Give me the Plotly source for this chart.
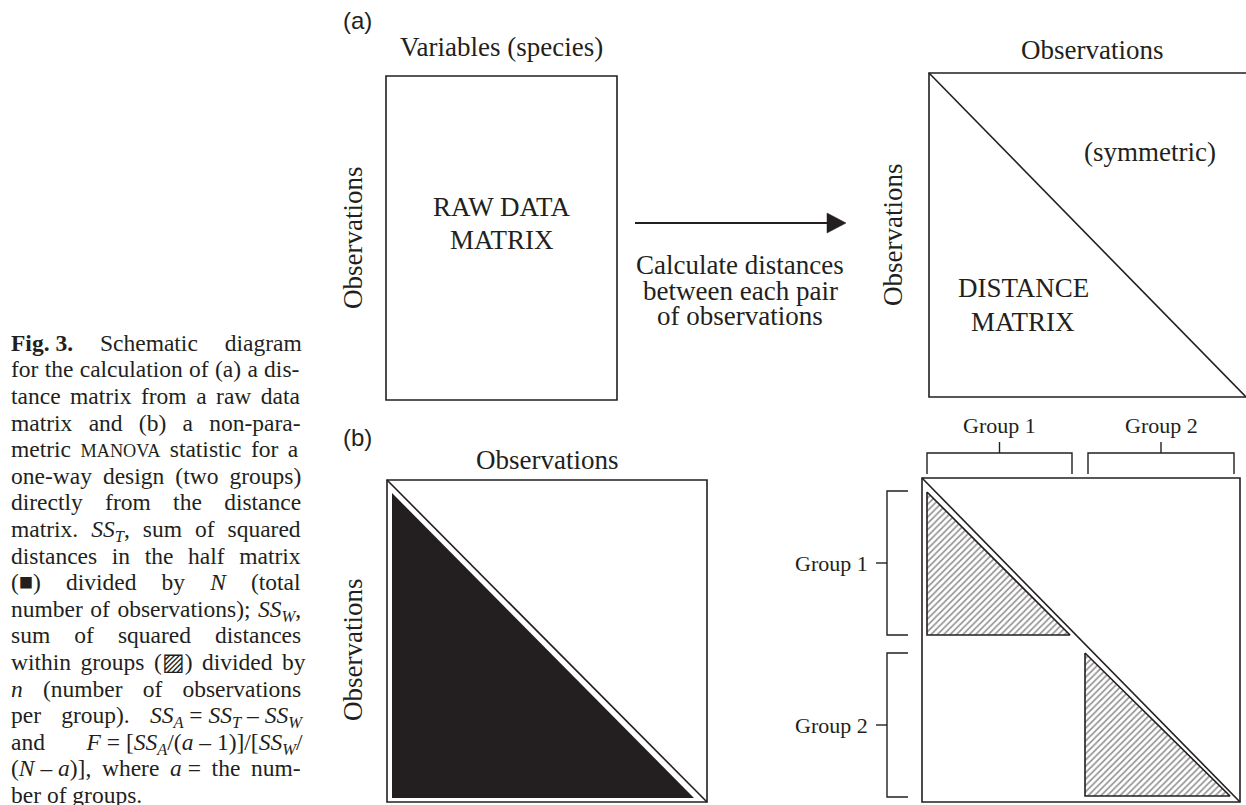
import re
import plotly.graph_objects as go

# ---------------- content ----------------
panel_tags = ["(a)", "(b)"]
raw_title = "Variables (species)"
obs_label = "Observations"
raw_label = ["RAW DATA", "MATRIX"]
dist_label = ["DISTANCE", "MATRIX"]
sym_label = "(symmetric)"
arrow_label = ["Calculate distances", "between each pair", "of observations"]
group_labels = ["Group 1", "Group 2"]

CAP_FS = 23.5
SC_FS = round(CAP_FS * 0.78, 1)
SST = "<i>SS</i><sub><i>T</i></sub>"
SSW = "<i>SS</i><sub><i>W</i></sub>"
SSA = "<i>SS</i><sub><i>A</i></sub>"
FS = "\u2005"  # fixed (non-stretching) space
caption_lines = [
    "<b>Fig." + FS + "3.</b> Schematic diagram",
    "for the calculation of (a) a dis-",
    "tance matrix from a raw data",
    "matrix and (b) a non-para-",
    "metric <span style='font-size:%spx'>MANOVA</span> statistic for a" % SC_FS,
    "one-way design (two groups)",
    "directly from the distance",
    "matrix. " + SST + ", sum of squared",
    "distances in the half matrix",
    "(\u25a0) divided by <i>N</i> (total",
    "number of observations); " + SSW + ",",
    "sum of squared distances",
    "within groups (\u25a8) divided by",
    "<i>n</i> (number of observations",
    "per group). " + SSA + FS + "=" + FS + SST + FS + "\u2013" + FS + SSW,
    "and <i>F</i>" + FS + "=" + FS + "[" + SSA + "/(<i>a</i>" + FS + "\u2013" + FS + "1)]/[" + SSW + "/",
    "(<i>N</i>" + FS + "\u2013" + FS + "<i>a</i>)], where <i>a</i>" + FS + "= the num-",
    "ber of groups.",
]

# ---------------- styling / geometry ----------------
W, H = 1246, 805
INK = "#231f20"
SERIF = "Liberation Serif, Times New Roman, serif"
SANS = "Liberation Sans, Arial, sans-serif"
LBL_FS = 27
GRP_FS = 22
LW = 1.6

# Times-compatible advance widths (1/1000 em)
ROMAN = {" ": 250, "\u2005": 250, "(": 333, ")": 333, ",": 250, "-": 333, ".": 250, "/": 278,
         ":": 278, ";": 278, "=": 564, "[": 333, "]": 333, "\u2013": 500, "\u25a0": 604, "\u25a8": 770}
ROMAN.update({d: 500 for d in "0123456789"})
ROMAN.update(dict(zip("ABCDEFGHIJKLMNOPQRSTUVWXYZ",
                      [722, 667, 667, 722, 611, 556, 722, 722, 333, 389, 722, 611, 889, 722, 722,
                       556, 722, 667, 556, 611, 722, 722, 944, 722, 722, 611])))
ROMAN.update(dict(zip("abcdefghijklmnopqrstuvwxyz",
                      [444, 500, 444, 500, 444, 333, 500, 500, 278, 278, 500, 278, 778, 500, 500,
                       500, 500, 333, 389, 278, 500, 500, 722, 500, 500, 444])))
ITALIC = dict(ROMAN)
ITALIC.update({"A": 611, "F": 611, "N": 667, "S": 500, "T": 556, "W": 833, "a": 500, "n": 500})
BOLD = dict(ROMAN)
BOLD.update({"F": 611, "i": 278, "g": 500})


def text_width(markup, fs):
    total, bold, italic, sub = 0.0, False, False, 0
    sizes = [fs]
    for tok in re.split(r"(<[^>]+>)", markup):
        if not tok:
            continue
        if tok.startswith("<"):
            t = tok.lower()
            if t == "<b>": bold = True
            elif t == "</b>": bold = False
            elif t == "<i>": italic = True
            elif t == "</i>": italic = False
            elif t == "<sub>": sub += 1
            elif t == "</sub>": sub -= 1
            elif t.startswith("<span"):
                m = re.search(r"font-size:\s*([\d.]+)px", t)
                sizes.append(float(m.group(1)) if m else sizes[-1])
            elif t == "</span>": sizes.pop()
            continue
        size = sizes[-1] * (0.7 ** sub)
        table = BOLD if bold else (ITALIC if italic else ROMAN)
        for ch in tok:
            total += table.get(ch, 500) / 1000.0 * size
    return total


def visible(markup):
    return re.sub(r"<[^>]+>", "", markup)


fig = go.Figure()
shapes = []
ann = []


def line(x0, y0, x1, y1, w=LW):
    shapes.append(dict(type="line", x0=x0, y0=y0, x1=x1, y1=y1, xref="x", yref="y",
                       line=dict(color=INK, width=w)))


def rect(x0, y0, x1, y1, w=LW):
    shapes.append(dict(type="rect", x0=x0, y0=y0, x1=x1, y1=y1, xref="x", yref="y",
                       line=dict(color=INK, width=w), fillcolor="rgba(0,0,0,0)"))


def path(d, w=LW, fill=None):
    shapes.append(dict(type="path", path=d, xref="x", yref="y",
                       line=dict(color=INK, width=w if w else 0),
                       fillcolor=fill if fill else "rgba(0,0,0,0)"))


def text(x, y, s, fs=LBL_FS, font=SERIF, xa="center", ya="middle", angle=0):
    ann.append(dict(x=x, y=y, xref="x", yref="y", text=s, showarrow=False, xanchor=xa,
                    yanchor=ya, textangle=angle, borderpad=0,
                    font=dict(family=font, size=fs, color=INK)))


# ---------------- caption (justified) ----------------
CAP_L, CAP_R = 10, 302
CAP_Y0, CAP_PITCH = 342, 26.6
for i, ln in enumerate(caption_lines):
    yc = CAP_Y0 + i * CAP_PITCH
    ytop = yc - 0.56 * CAP_FS
    nat = text_width(ln, CAP_FS)
    nsp = visible(ln).count(" ")
    if i < len(caption_lines) - 1 and nsp > 0:
        ws = (CAP_R - CAP_L - nat) / nsp - 0.6
        s = "<span style='word-spacing:%.2fpx'>%s</span>" % (ws, ln)
    else:
        s = ln
    text(CAP_L, ytop, s, fs=CAP_FS, xa="left", ya="top")

# ---------------- panel (a) ----------------
text(357, 20, panel_tags[0], fs=24, font=SANS)
# raw data matrix
RX0, RY0, RX1, RY1 = 386, 76, 617, 400
rect(RX0, RY0, RX1, RY1)
text((RX0 + RX1) / 2, 47, raw_title)
text(353, (RY0 + RY1) / 2, obs_label, angle=-90)
text((RX0 + RX1) / 2, 207, raw_label[0])
text((RX0 + RX1) / 2, 240, raw_label[1])
# arrow
AY = 223
line(635, AY, 830, AY, w=1.8)
path("M 827 213 L 846 %d L 827 233 Z" % AY, w=0.5, fill=INK)
for k, s in enumerate(arrow_label):
    text(740, 265 + k * 25.5, s)
# distance matrix
DX0, DY0, DX1, DY1 = 929, 73, 1247, 397
rect(DX0, DY0, DX1, DY1)
line(DX0, DY0, DX1 - 1, DY1)
text(1092, 50, obs_label)
text(893, (DY0 + DY1) / 2, obs_label, angle=-90)
text(1150, 152, sym_label)
text(1023, 288, dist_label[0])
text(1023, 322, dist_label[1])

# ---------------- panel (b) ----------------
text(357, 437, panel_tags[1], fs=24, font=SANS)
# total SS matrix
BX0, BY0, BX1, BY1 = 387, 480, 707, 802
rect(BX0, BY0, BX1, BY1)
line(BX0, BY0, BX1, BY1)
path("M 392 493 L 392 798 L 694 798 Z", w=0, fill=INK)
text((BX0 + BX1) / 2, 460, obs_label)
text(353, 650, obs_label, angle=-90)

# within-group matrix
GX0, GY0, GX1, GY1 = 922, 478, 1240, 802
rect(GX0, GY0, GX1, GY1)
line(GX0, GY0, GX1, GY1)
tris = [((927, 492), (927, 635), (1070, 635)), ((1085, 653), (1085, 796), (1230, 796))]
for t in tris:
    xs = [p[0] for p in t] + [t[0][0]]
    ys = [p[1] for p in t] + [t[0][1]]
    fig.add_trace(go.Scatter(x=xs, y=ys, mode="lines", fill="toself", fillcolor="white",
                             fillpattern=dict(shape="/", fgcolor=INK, bgcolor="white",
                                              size=4.5, solidity=0.35),
                             line=dict(color=INK, width=1.6), hoverinfo="skip", showlegend=False))

# top brackets
top_br = [(927, 1072), (1088, 1234)]
for (a, b), lab in zip(top_br, group_labels):
    path("M %d 474 L %d 453 L %d 453 L %d 474" % (a, a, b, b), w=1.4)
    m = (a + b) / 2
    line(m, 442, m, 453, w=1.4)
    text(m, 425, lab, fs=GRP_FS)
# side brackets
side_br = [(491, 635), (653, 797)]
for (a, b), lab in zip(side_br, group_labels):
    path("M 908 %d L 887 %d L 887 %d L 908 %d" % (a, a, b, b), w=1.4)
    m = (a + b) / 2
    line(876, m, 887, m, w=1.4)
    text(869, m, lab, fs=GRP_FS, xa="right")

fig.update_layout(
    width=W, height=H, margin=dict(l=0, r=0, t=0, b=0),
    paper_bgcolor="white", plot_bgcolor="white",
    xaxis=dict(range=[0, W], visible=False, fixedrange=True),
    yaxis=dict(range=[H, 0], visible=False, fixedrange=True),
    shapes=shapes, annotations=ann, showlegend=False, hovermode=False,
)
fig.write_html("out.html", config={"displayModeBar": False},
               post_script="document.body.style.margin='0px';document.body.style.overflow='hidden';")
